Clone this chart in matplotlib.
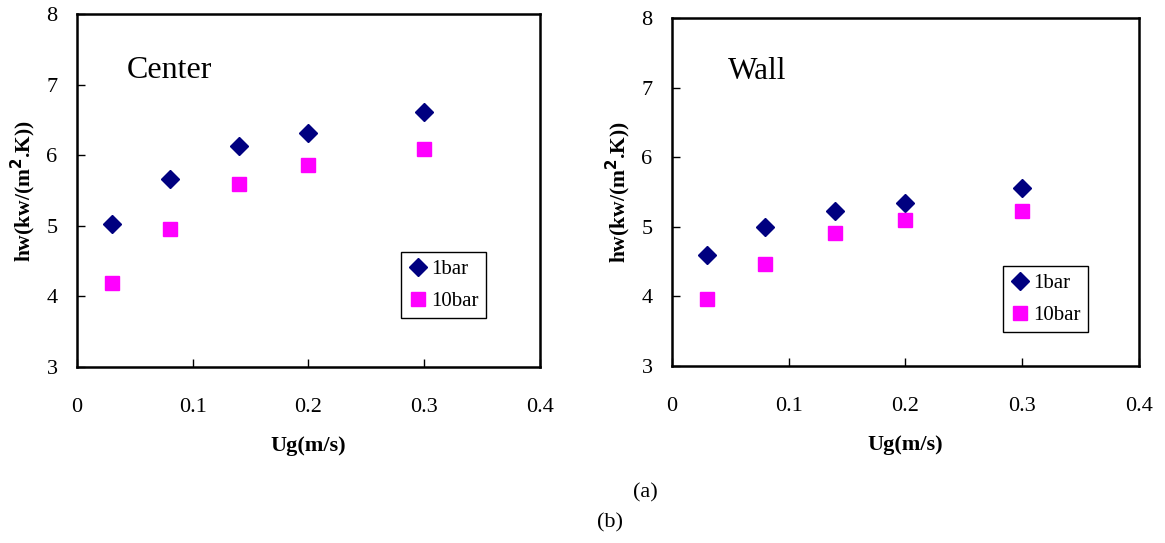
import numpy as np
import matplotlib.pyplot as plt

plt.rcParams['font.family'] = ['Liberation Serif', 'DejaVu Serif']

# gas velocity, m/s
ug = [0.03, 0.08, 0.14, 0.2, 0.3]

# heat transfer coefficient at the center
center_1bar = [5.03, 5.67, 6.13, 6.31, 6.62]
center_10bar = [4.19, 4.95, 5.60, 5.86, 6.09]

# heat transfer coefficient at the wall
wall_1bar = [4.59, 4.99, 5.23, 5.34, 5.55]
wall_10bar = [3.96, 4.46, 4.91, 5.09, 5.23]

xticks = [0, 0.1, 0.2, 0.3, 0.4]
xticklabels = ['0', '0.1', '0.2', '0.3', '0.4']
yticks = [3, 4, 5, 6, 7, 8]

fig = plt.figure(figsize=(11.65, 5.43), dpi=100)
ax1 = fig.add_axes([0.0661, 0.324, 0.3974, 0.650])
ax2 = fig.add_axes([0.5768, 0.326, 0.4009, 0.641])


def draw(ax, y1, y10, name, name_pos, name_size, leg_anchor):
    ax.plot(ug, y1, 'D', color='#000080', markersize=9, label='1bar')
    ax.plot(ug, y10, 's', color='#ff00ff', markersize=10.5, label='10bar')
    ax.set_xlim(0, 0.4)
    ax.set_ylim(3, 8)
    ax.set_xticks(xticks)
    ax.set_xticklabels(xticklabels)
    ax.set_yticks(yticks)
    ax.tick_params(direction='in', length=6, width=1, labelsize=16)
    ax.tick_params(axis='x', pad=22)
    ax.tick_params(axis='y', pad=14)
    for s in ax.spines.values():
        s.set_linewidth(1.8)
    ax.set_xlabel('Ug(m/s)', fontsize=16, fontweight='bold', labelpad=14)
    ax.set_ylabel(r'hw(kw/(m$^\mathbf{2}$.K))', fontsize=15.5, fontweight='bold', labelpad=6)
    ax.text(name_pos[0], name_pos[1], name, fontsize=name_size, va='center', ha='left')
    leg = ax.legend(loc='upper left', bbox_to_anchor=leg_anchor, fontsize=15,
                    fancybox=False, edgecolor='black', framealpha=1,
                    handletextpad=0.2, handlelength=0.9, borderpad=0.35,
                    labelspacing=0.6, borderaxespad=0)
    leg.get_frame().set_linewidth(1)


draw(ax1, center_1bar, center_10bar, 'Center', (0.043, 7.2), 23, (0.700, 0.326))
draw(ax2, wall_1bar, wall_10bar, 'Wall', (0.048, 7.23), 22.5, (0.709, 0.287))

fig.text(645 / 1165, 1 - 493 / 543, '(a)', fontsize=16, ha='center', va='center')
fig.text(610 / 1165, 1 - 523 / 543, '(b)', fontsize=16, ha='center', va='center')

fig.savefig('out.png', dpi=100)
